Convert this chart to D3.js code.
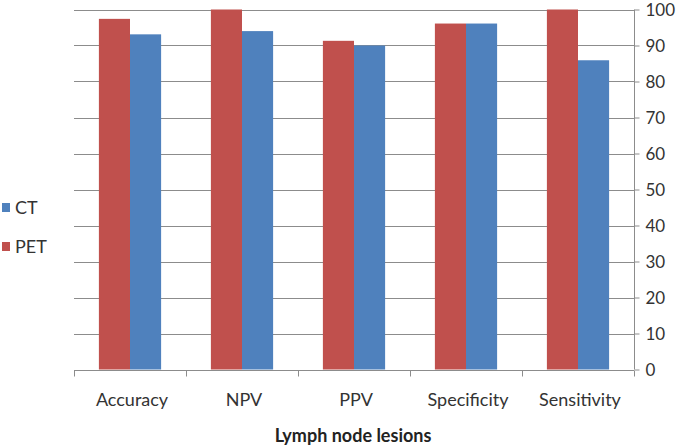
<!DOCTYPE html>
<html><head><meta charset="utf-8">
<script src="https://cdn.jsdelivr.net/npm/d3@7"></script>
<style>body{margin:0;background:#fff;} text{font-family:Lato,"Open Sans",sans-serif;}</style>
</head><body>
<svg id="c" width="685" height="446"></svg>
<script>
const categories = ["Accuracy","NPV","PPV","Specificity","Sensitivity"];
const series = ["PET","CT"];
const petValues = [97.4, 100, 91.3, 96.1, 100];
const ctValues = [93.1, 94.0, 90.0, 96.1, 85.9];
const yTicks = [0,10,20,30,40,50,60,70,80,90,100];
const legendItems = ["CT","PET"];
const colors = {PET:"#C0504D", CT:"#4F81BD"};
const xTitle = "Lymph node lesions";

const svg = d3.select("#c");
const L = 74, R = 634, T = 9.5, B = 369.5;
const y = d3.scaleLinear().domain([0,100]).range([B,T]);
const x0 = d3.scaleBand().domain(categories).range([L,R]).padding(0);
const x1 = d3.scaleBand().domain(series).range([0,x0.bandwidth()]).paddingInner(0).paddingOuter(0.8);

// gridlines
svg.append("g").selectAll("line").data(yTicks.filter(d=>d>0)).join("line")
  .attr("x1",L).attr("x2",R).attr("y1",d=>Math.round(y(d))+0.5).attr("y2",d=>Math.round(y(d))+0.5)
  .attr("stroke","#8c8c8c").attr("stroke-width",1);

// bars
const data = categories.map((c,i)=>({c, PET:petValues[i], CT:ctValues[i]}));
const g = svg.append("g").selectAll("g").data(data).join("g")
  .attr("transform",d=>`translate(${x0(d.c)},0)`);
g.selectAll("rect").data(d=>series.map(s=>({s,v:d[s]}))).join("rect")
  .attr("x",d=>x1(d.s)).attr("width",x1.bandwidth())
  .attr("y",d=>y(d.v)).attr("height",d=>B-y(d.v))
  .attr("fill",d=>colors[d.s]);

// right axis
const yAxis = d3.axisRight(y).tickValues(yTicks).tickSize(5).tickPadding(6).tickFormat(d3.format("d"));
const ya = svg.append("g").attr("transform",`translate(${R+0.5},0)`).call(yAxis);
ya.select(".domain").attr("stroke","#8c8c8c").attr("d",`M0,${T}V${B}`);
ya.selectAll(".tick line").attr("stroke","#8c8c8c");
ya.selectAll(".tick text").attr("font-size",17).attr("fill","#333").attr("font-family","Lato,sans-serif").attr("dy","0.36em");

// x axis
const xa = svg.append("g").attr("transform",`translate(0,${Math.round(B)+0.5})`);
xa.append("line").attr("x1",L).attr("x2",R).attr("stroke","#8c8c8c");
xa.selectAll("line.t").data(d3.range(categories.length+1)).join("line").attr("class","t")
  .attr("x1",i=>Math.round(L+i*x0.step())+0.5).attr("x2",i=>Math.round(L+i*x0.step())+0.5)
  .attr("y1",0).attr("y2",6).attr("stroke","#8c8c8c");
xa.selectAll("text").data(categories).join("text")
  .attr("x",d=>x0(d)+x0.bandwidth()/2+2).attr("y",35)
  .attr("text-anchor","middle").attr("font-size",18).attr("fill","#333").text(d=>d);

svg.append("text").attr("x",353).attr("y",442).attr("text-anchor","middle")
  .attr("font-size",18).attr("font-weight","bold").attr("fill","#222").text(xTitle);

// legend
const lg = svg.append("g").selectAll("g").data(legendItems).join("g")
  .attr("transform",(d,i)=>`translate(2,${208+i*39})`);
lg.append("rect").attr("x",0).attr("y",-5).attr("width",8).attr("height",9).attr("fill",d=>colors[d]);
lg.append("text").attr("x",13).attr("y",6).attr("font-size",18).attr("fill","#333").text(d=>d);
</script>
</body></html>
